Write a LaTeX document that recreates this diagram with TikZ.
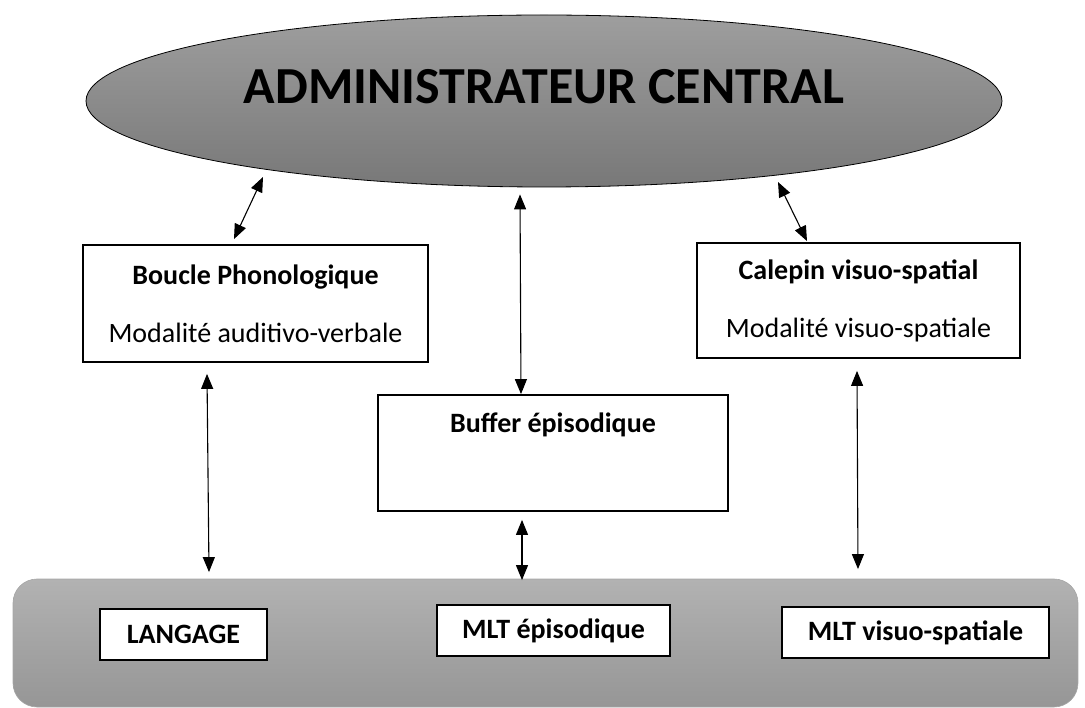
\documentclass[tikz,border=0pt]{standalone}
\usepackage{fontspec}
\setmainfont{Carlito}
\usetikzlibrary{shapes.geometric,arrows.meta}
\definecolor{elltop}{RGB}{158,158,158}
\definecolor{ellbot}{RGB}{120,120,120}
\definecolor{bartop}{RGB}{178,178,178}
\definecolor{barbot}{RGB}{150,150,150}
\tikzset{
  box/.style={draw=black, line width=1.8pt, fill=white, inner sep=0pt, align=center},
  boxtext/.style={font=\fontsize{28}{58}\selectfont},
  lbl/.style={font=\bfseries\fontsize{28}{34}\selectfont, inner sep=0pt},
  arr/.style={{Triangle[length=15pt,width=12pt]}-{Triangle[length=15pt,width=12pt]}, line width=1.1pt}
}
\begin{document}
\begin{tikzpicture}[x=1pt,y=-1pt]
\useasboundingbox (0,0) rectangle (1085,708);
% central administrator
\node[ellipse, draw=black, line width=0.8pt, top color=elltop, bottom color=ellbot,
      minimum width=916pt, minimum height=172pt, inner sep=0pt] (admin) at (544,101) {};
\node[font=\bfseries\fontsize{52}{60}\selectfont, inner sep=0pt] (admintxt) at (544,87) {ADMINISTRATEUR CENTRAL};
% middle boxes
\node[box, boxtext, minimum width=345pt, minimum height=117pt] (boucle) at (255.5,303.5)
  {\textbf{Boucle Phonologique}\\Modalité auditivo-verbale};
\node[box, boxtext, minimum width=323pt, minimum height=115pt] (calepin) at (858.5,300.5)
  {\textbf{Calepin visuo-spatial}\\Modalité visuo-spatiale};
\node[box, minimum width=350pt, minimum height=116pt] (buffer) at (553,453) {};
\node[lbl] (buffertxt) at (553,425) {Buffer épisodique};
% long-term memory bar
\node[rounded corners=24pt, draw=gray!70, line width=0.6pt, top color=bartop, bottom color=barbot,
      minimum width=1065pt, minimum height=128pt, inner sep=0pt] (mlt) at (545.5,643) {};
\node[box, lbl, minimum width=167pt, minimum height=51pt] (langage) at (183.5,634.5) {LANGAGE};
\node[box, lbl, minimum width=233pt, minimum height=51pt] (mltepi) at (553.5,630.5) {MLT épisodique};
\node[box, lbl, minimum width=267pt, minimum height=51pt] (mltvis) at (915.5,632.5) {MLT visuo-spatiale};
% connectors
\draw[arr] ([xshift=-21.5pt,yshift=5pt]boucle.north) -- ([xshift=-281pt,yshift=-76pt]admin.center);
\draw[arr] ([xshift=-51.5pt,yshift=1pt]calepin.north) -- ([xshift=234pt,yshift=-81pt]admin.center);
\draw[arr] ([xshift=-32pt]buffer.north) -- ([xshift=-24pt,yshift=-7pt]admin.south);
\draw[arr] ([xshift=-48.5pt,yshift=-11pt]boucle.south) -- ([xshift=25.5pt,yshift=36pt]langage.north);
\draw[arr] ([xshift=-31pt,yshift=-8pt]buffer.south) -- ([xshift=-31.5pt,yshift=24pt]mltepi.north);
\draw[arr] ([xshift=-1.5pt,yshift=-12pt]calepin.south) -- ([xshift=-57.5pt,yshift=37pt]mltvis.north);
\end{tikzpicture}
\end{document}
